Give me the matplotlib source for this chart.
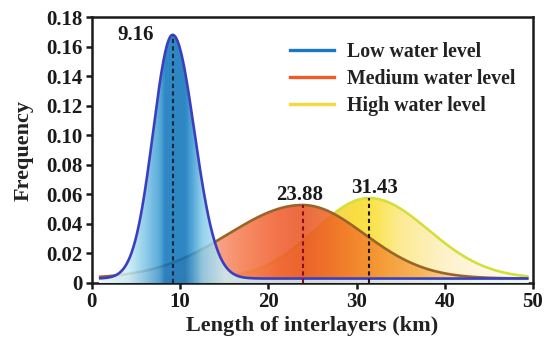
import numpy as np
import matplotlib
matplotlib.use("Agg")
import matplotlib.pyplot as plt
from matplotlib.colors import LinearSegmentedColormap
from matplotlib.patches import Polygon

plt.rcParams['font.family'] = ['Liberation Serif', 'DejaVu Serif']
plt.rcParams['font.weight'] = 'bold'

# ---- data ----
series = ['Low water level', 'Medium water level', 'High water level']
modes = [9.16, 23.88, 31.43]          # peak positions (km)
peaks = [0.168, 0.0528, 0.0575]       # peak frequency
sigma_left = [2.2, 8.4, 6.1]          # spread left of peak
sigma_right = [2.45, 7.0, 6.7]        # spread right of peak
baseline = 0.003
x_start, x_end = 0.8, 49.5
mode_labels = ['9.16', '23.88', '31.43']
label_pos = [(5.0, 0.168), (23.5, 0.0595), (32.1, 0.0646)]
xticks = [0, 10, 20, 30, 40, 50]
yticks = [0, 0.02, 0.04, 0.06, 0.08, 0.10, 0.12, 0.14, 0.16, 0.18]
ytick_labels = ['0', '0.02', '0.04', '0.06', '0.08', '0.10', '0.12', '0.14', '0.16', '0.18']

# ---- styles ----
line_colors = ['#3b3fbf', '#9a6428', '#d4e03a']
legend_colors = ['#1a78c2', '#f05a28', '#f8d840']
vline_colors = ['#10283a', '#8a0c1c', '#1a1a1a']
grad_stops = [
    [(0.8, '#e8fafd'), (4, '#c8eef8'), (6, '#7cc4e6'), (7.6, '#3c9cd4'), (8.2, '#0a74bc'),
     (10.5, '#0872b8'), (11.2, '#2c92cf'), (12.5, '#84cbe9'), (15, '#c8eef8'), (49.5, '#e8fafd')],
    [(0.8, '#fbe4ec'), (6, '#f8c8d0'), (12, '#f8a890'), (17, '#f5784a'), (21, '#f05a28'),
     (24, '#e8501e'), (28, '#f06a24'), (33, '#f49030'), (38, '#f8b050'), (42, '#fce0b0'), (49.5, '#fff4e8')],
    [(0.8, '#fff6e6'), (10, '#fff0d0'), (20, '#fbd090'), (26, '#f8c840'), (30, '#f8d820'),
     (32, '#fae030'), (35, '#fce880'), (40, '#fdf0c0'), (46, '#fff8e8'), (49.5, '#fffcf4')],
]

fig = plt.figure(figsize=(5.5, 3.43), dpi=100)
ax = fig.add_axes([0.167, 0.175, 0.802, 0.775])
ax.set_xlim(0, 50)
ax.set_ylim(0, 0.18)

x = np.linspace(x_start, x_end, 800)

def curve(i):
    s = np.where(x < modes[i], sigma_left[i], sigma_right[i])
    return baseline + (peaks[i] - baseline) * np.exp(-0.5 * ((x - modes[i]) / s) ** 2)

order = [2, 1, 0]
for k, i in enumerate(order):
    y = curve(i)
    z = 1 + 2 * k
    stops = grad_stops[i]
    cmap = LinearSegmentedColormap.from_list(
        'g%d' % i, [((p - 0.8) / (49.5 - 0.8), c) for p, c in stops])
    grad = np.linspace(0, 1, 512).reshape(1, -1)
    im = ax.imshow(grad, cmap=cmap, aspect='auto', extent=[x_start, x_end, 0, 0.18],
                   origin='lower', alpha=0.85, zorder=z, interpolation='bilinear')
    verts = np.column_stack([np.concatenate([[x_start], x, [x_end]]),
                             np.concatenate([[0], y, [0]])])
    poly = Polygon(verts, closed=True, facecolor='none', edgecolor='none', transform=ax.transData)
    ax.add_patch(poly)
    im.set_clip_path(poly)
    ax.plot(x, y, color=line_colors[i], lw=1.9, zorder=z + 1, solid_capstyle='butt')

for i in range(3):
    ax.plot([modes[i], modes[i]], [0, peaks[i]], color=vline_colors[i], lw=1.5,
            linestyle=(0, (2, 1.6)), zorder=10)
    ax.text(label_pos[i][0], label_pos[i][1], mode_labels[i], ha='center', va='center',
            fontsize=15, fontweight='bold', color='#1a1a1a', zorder=11)

handles = [plt.Line2D([], [], color=legend_colors[i], lw=2.4) for i in range(3)]
leg = ax.legend(handles, series, loc='upper right', bbox_to_anchor=(1.0, 0.975),
                frameon=False, handlelength=2.2, handletextpad=0.65,
                labelspacing=0.35, prop={'weight': 'bold', 'size': 14.3})
for t in leg.get_texts():
    t.set_color('#222222')

ax.set_xticks(xticks)
ax.set_yticks(yticks)
ax.set_yticklabels(ytick_labels)
for sp in ax.spines.values():
    sp.set_linewidth(1.8)
    sp.set_color('#1a1a1a')
ax.tick_params(axis='both', which='major', direction='out', length=4.5, width=1.8,
               labelsize=15, colors='#1a1a1a', pad=2)
for lab in ax.get_xticklabels() + ax.get_yticklabels():
    lab.set_fontweight('bold')
ax.set_xlabel('Length of interlayers (km)', fontsize=16, fontweight='bold', labelpad=3,
              color='#222222')
ax.set_ylabel('Frequency', fontsize=16, fontweight='bold', labelpad=9, color='#222222')

fig.savefig('out.png', dpi=100)
